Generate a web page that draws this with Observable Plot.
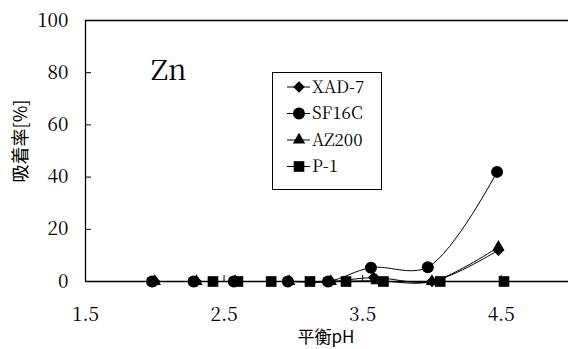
<!DOCTYPE html>
<html><head><meta charset="utf-8">
<script src="https://cdn.jsdelivr.net/npm/d3@7"></script>
<script src="https://cdn.jsdelivr.net/npm/@observablehq/plot@0.6"></script>
<style>
body{margin:0;background:#fff;}
#chart{position:relative;width:568px;height:349px;overflow:hidden;}
</style></head><body><div id="chart"></div>
<script>
// ---- data ----
const xTicks = [1.5, 2.5, 3.5, 4.5];
const yTicks = [0, 20, 40, 60, 80, 100];
const seriesNames = ["XAD-7", "SF16C", "AZ200", "P-1"];
const seriesSymbols = ["diamond2", "circle", "triangle", "square"];
const chartTitle = "Zn";
const xLabel = "平衡pH";
const yLabel = "吸着率[%]";

const pH_XAD7  = [2.00, 2.30, 2.58, 2.97, 3.27, 3.58, 4.00, 4.48];
const ads_XAD7 = [0, 0, 0, 0, 0, 1.5, 0, 12];
const pH_SF16C  = [1.98, 2.28, 2.57, 2.96, 3.25, 3.56, 3.97, 4.47];
const ads_SF16C = [0, 0, 0, 0, 0, 5.3, 5.5, 42];
const pH_AZ200  = [2.00, 2.30, 2.58, 2.97, 3.27, 3.60, 4.00, 4.48];
const ads_AZ200 = [0, 0, 0, 0, 0, 0.3, 0, 13.2];
const pH_P1  = [2.42, 2.60, 2.84, 3.12, 3.38, 3.65, 4.06, 4.52];
const ads_P1 = [0, 0, 0, 0, 0, 0, 0, 0];

const pHs = [pH_XAD7, pH_SF16C, pH_AZ200, pH_P1];
const ads = [ads_XAD7, ads_SF16C, ads_AZ200, ads_P1];
const radii = [5.2, 6, 4.6, 6];

const serif = "'Noto Serif CJK JP', 'Liberation Serif', serif";
const sans = "'Noto Sans CJK JP', sans-serif";

const rows = seriesNames.flatMap((name, k) => pHs[k].map((p, i) => ({series: name, pH: p, value: ads[k][i]})));

const marks = [
  Plot.ruleY([100], {stroke: "#000", strokeWidth: 1.3}),
  Plot.ruleY([0], {stroke: "#000", strokeWidth: 1.3}),
  Plot.ruleX([1.5], {stroke: "#000", strokeWidth: 1.3}),
  Plot.axisX(xTicks, {anchor: "bottom", tickSize: -6, tickPadding: 32, label: null, fontSize: 19, fontFamily: serif, fill: "#000", tickFormat: d3.format(".1f")}),
  Plot.axisY(yTicks, {anchor: "left", tickSize: -6, tickPadding: 23, label: null, fontSize: 19, fontFamily: serif, fill: "#000"})
];
seriesNames.forEach((name, k) => {
  const d = rows.filter(r => r.series === name);
  marks.push(Plot.line(d, {x: "pH", y: "value", stroke: "#000", strokeWidth: 1, curve: "catmull-rom"}));
  marks.push(Plot.dot(d, {x: "pH", y: "value", symbol: seriesSymbols[k], r: radii[k], fill: "#000", stroke: "none"}));
});

const svg = Plot.plot({
  width: 568, height: 349,
  marginLeft: 85, marginTop: 20, marginBottom: 68, marginRight: 0,
  x: {domain: [1.5, 5], range: [85, 570]},
  y: {domain: [0, 100], range: [281, 20]},
  style: {background: "#fff", color: "#000"},
  marks
});
document.getElementById("chart").appendChild(svg);

// make sure tick labels use the serif face
svg.querySelectorAll('g[aria-label$="tick label"], g[aria-label$="tick label"] text').forEach(el => el.style.fontFamily = serif);

const s = d3.select(svg);
s.append("text").attr("x", 151).attr("y", 80).attr("text-anchor", "start").style("font-family", serif).attr("font-size", 28).attr("fill", "#000").text(chartTitle);
s.append("text").attr("transform", "translate(19,141) rotate(-90)").attr("text-anchor", "middle").attr("dominant-baseline", "central")
  .style("font-family", sans).attr("font-size", 18).attr("fill", "#000").text(yLabel);
s.append("text").attr("x", 326).attr("y", 343).attr("text-anchor", "middle")
  .style("font-family", sans).attr("font-size", 17).attr("fill", "#000").text(xLabel);

// legend
const lg = s.append("g");
lg.append("rect").attr("x", 272.5).attr("y", 72.5).attr("width", 109).attr("height", 117).attr("fill", "#fff").attr("stroke", "#000").attr("stroke-width", 1);
const symMap = {diamond2: d3.symbolDiamond2, circle: d3.symbolCircle, triangle: d3.symbolTriangle, square: d3.symbolSquare};
const legY = [87, 113.5, 140, 166.5];
seriesNames.forEach((name, k) => {
  const y = legY[k];
  lg.append("line").attr("x1", 287).attr("x2", 310).attr("y1", y).attr("y2", y).attr("stroke", "#000").attr("stroke-width", 1);
  lg.append("path").attr("transform", `translate(299,${y})`).attr("d", d3.symbol(symMap[seriesSymbols[k]], Math.PI * radii[k] * radii[k])()).attr("fill", "#000");
  lg.append("text").attr("x", 312).attr("y", y + 5.5).attr("text-anchor", "start").style("font-family", serif).attr("font-size", 17).attr("fill", "#000").text(name);
});
</script></body></html>
